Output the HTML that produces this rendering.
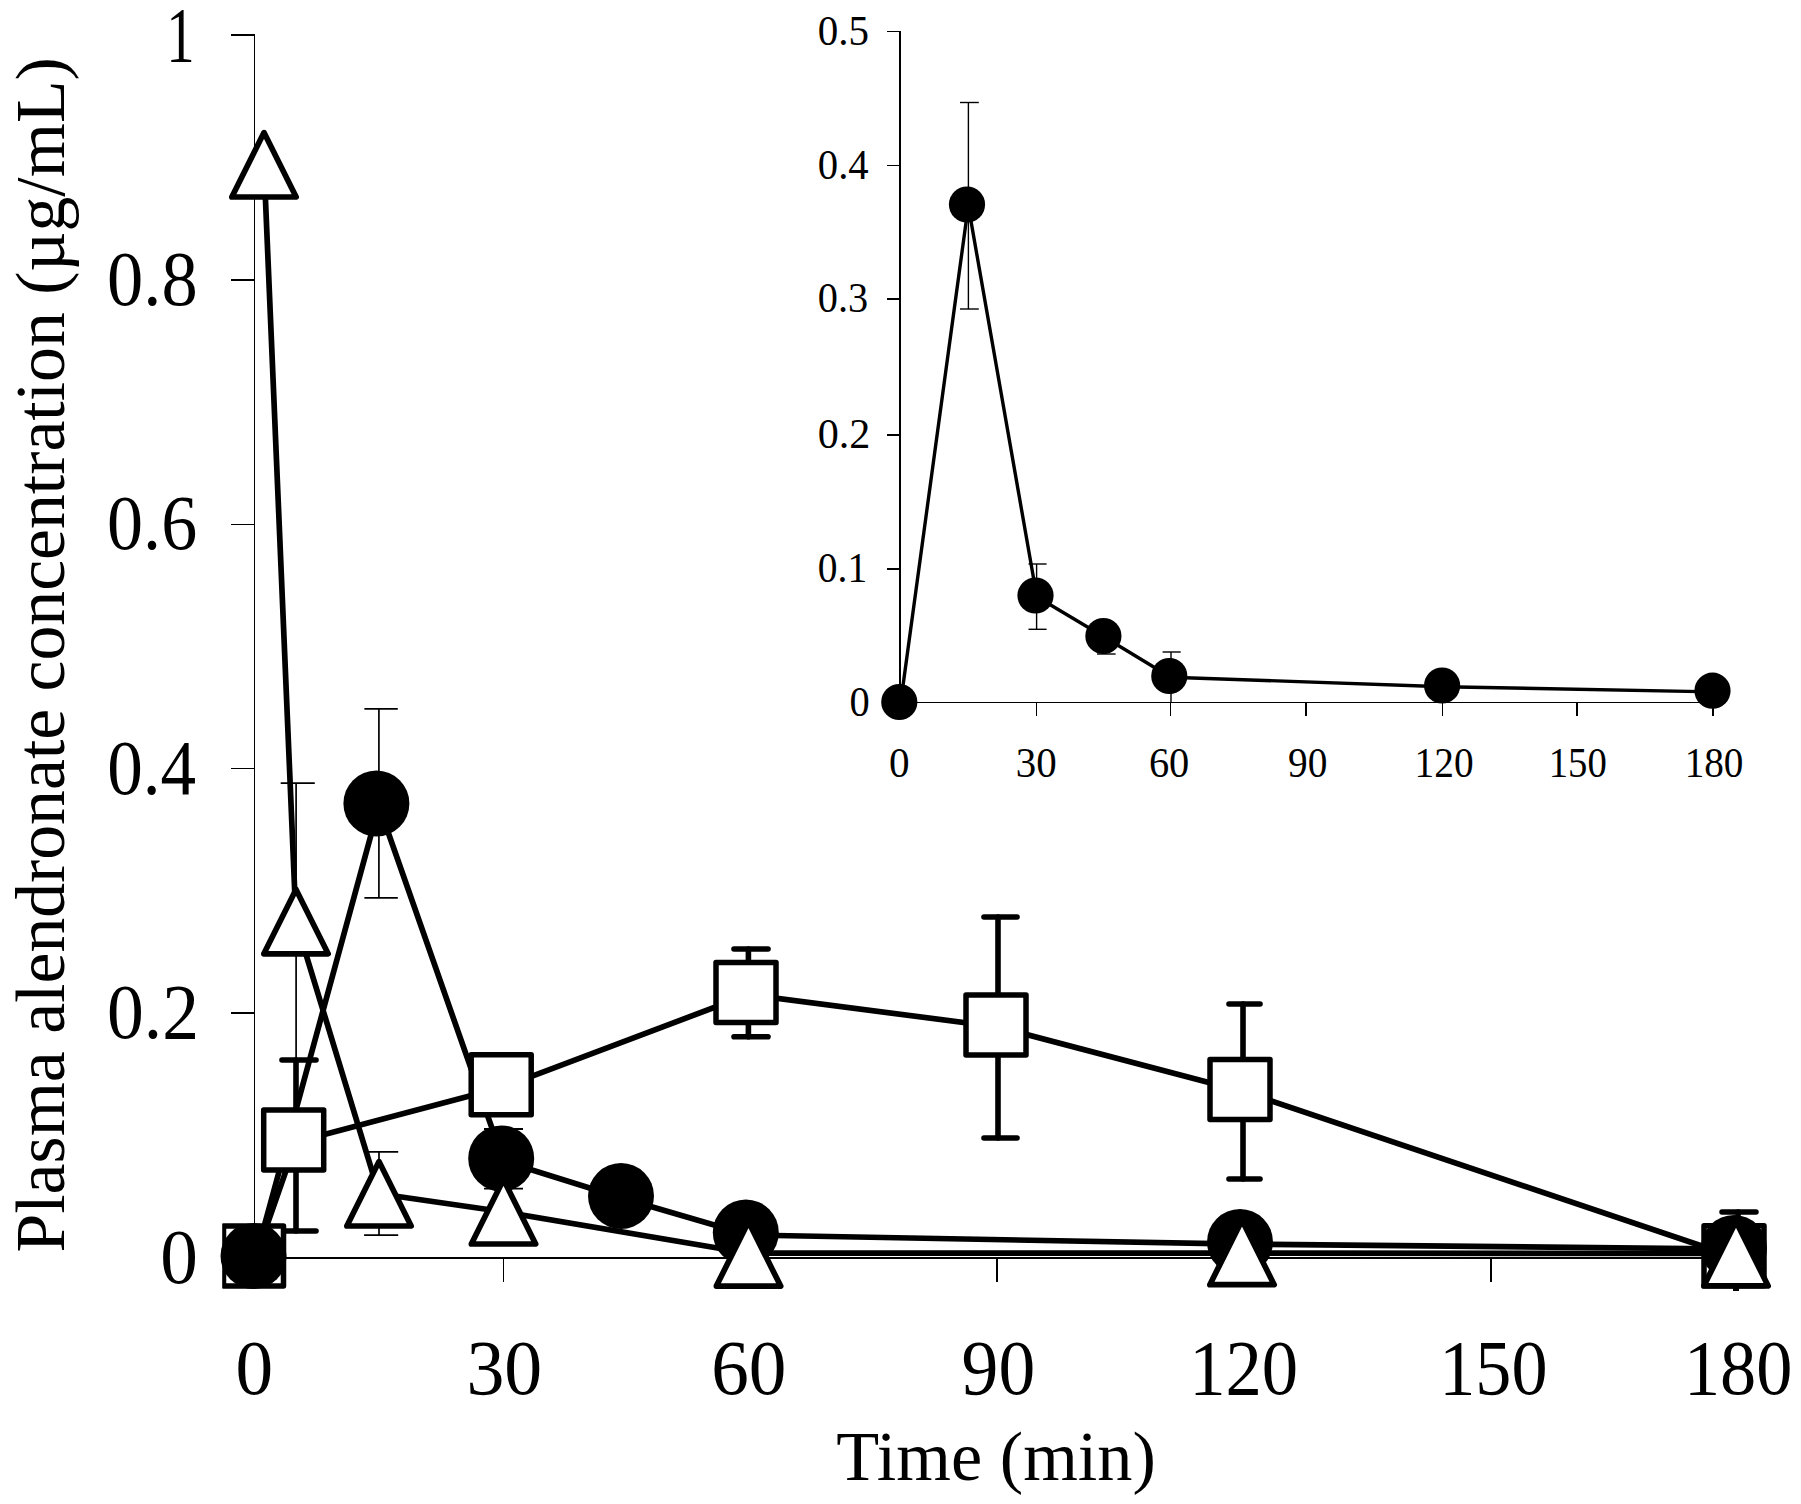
<!DOCTYPE html>
<html lang="en"><head><meta charset="utf-8"><title>Plasma alendronate concentration</title>
<style>html,body{margin:0;padding:0;background:#fff}svg{display:block}text{font-family:"Liberation Serif","Times New Roman",serif;fill:#000}</style>
</head><body>
<svg width="1801" height="1504" viewBox="0 0 1801 1504">
<rect width="1801" height="1504" fill="#fff"/>
<g stroke="#000" fill="none" shape-rendering="crispEdges">
<line x1="254.6" y1="35" x2="254.6" y2="1257.5" stroke-width="1.3"/>
<line x1="254.6" y1="1257.5" x2="1737" y2="1257.5" stroke-width="2"/>
<line x1="231" y1="35" x2="254.6" y2="35" stroke-width="1.5"/>
<line x1="231" y1="280" x2="254.6" y2="280" stroke-width="1.5"/>
<line x1="231" y1="524.3" x2="254.6" y2="524.3" stroke-width="1.5"/>
<line x1="231" y1="768.7" x2="254.6" y2="768.7" stroke-width="1.5"/>
<line x1="231" y1="1013" x2="254.6" y2="1013" stroke-width="1.5"/>
<line x1="231" y1="1257.5" x2="254.6" y2="1257.5" stroke-width="1.5"/>
<line x1="503.5" y1="1257.5" x2="503.5" y2="1282" stroke-width="1.2"/>
<line x1="749" y1="1257.5" x2="749" y2="1282" stroke-width="1.2"/>
<line x1="997" y1="1257.5" x2="997" y2="1282" stroke-width="1.2"/>
<line x1="1243" y1="1257.5" x2="1243" y2="1282" stroke-width="1.2"/>
<line x1="1491" y1="1257.5" x2="1491" y2="1282" stroke-width="1.2"/>
<line x1="1736" y1="1257.5" x2="1736" y2="1282" stroke-width="1.2"/>
</g>
<text transform="translate(166.14,60.90) scale(0.7182,1)" font-size="79">1</text>
<text transform="translate(107.08,305.10) scale(0.9179,1)" font-size="79">0.8</text>
<text transform="translate(107.10,549.40) scale(0.9120,1)" font-size="79">0.6</text>
<text transform="translate(107.13,793.80) scale(0.9006,1)" font-size="79">0.4</text>
<text transform="translate(107.04,1038.10) scale(0.9317,1)" font-size="79">0.2</text>
<text transform="translate(160.18,1282.60) scale(0.9531,1)" font-size="79">0</text>
<text transform="translate(235.58,1393.60) scale(0.9531,1)" font-size="79">0</text>
<text transform="translate(466.40,1393.60) scale(0.9601,1)" font-size="79">30</text>
<text transform="translate(711.20,1393.60) scale(0.9521,1)" font-size="79">60</text>
<text transform="translate(961.61,1393.60) scale(0.9310,1)" font-size="79">90</text>
<text transform="translate(1189.14,1393.60) scale(0.9206,1)" font-size="79">120</text>
<text transform="translate(1439.18,1393.60) scale(0.9142,1)" font-size="79">150</text>
<text transform="translate(1683.97,1393.60) scale(0.9151,1)" font-size="79">180</text>
<text transform="translate(836.37,1480.00) scale(1.0113,1)" font-size="69.5">Time (min)</text>
<text transform="translate(63.5,1252.49) rotate(-90) scale(0.9886,1)" font-size="70.5">Plasma alendronate concentration (µg/mL)</text>
<polyline fill="none" stroke="#000" stroke-width="5.7" stroke-linejoin="round" points="255.5,1258 296,1142 503.5,1087 748.5,994.5 998,1027 1243,1091.5 1736,1257.5"/>
<polyline fill="none" stroke="#000" stroke-width="5.7" stroke-linejoin="round" points="255.5,1258 378.9,806 503.5,1161 623.3,1198.5 748.5,1235 1243,1244.2 1736,1249"/>
<polyline fill="none" stroke="#000" stroke-width="5.7" stroke-linejoin="round" points="264,164.8 296,921.6 379,1193.8 503.5,1211.8 748.5,1253.2 1242,1253.2 1736,1253.5"/>
<g stroke="#000" stroke-width="5.6" stroke-linecap="round" fill="none"><line x1="296" y1="1060" x2="296" y2="1231"/><line x1="282" y1="1060" x2="316" y2="1060"/><line x1="282" y1="1231" x2="316" y2="1231"/></g>
<g stroke="#000" stroke-width="5.6" stroke-linecap="round" fill="none"><line x1="748.4" y1="949" x2="748.4" y2="1036.7"/><line x1="734" y1="949" x2="768" y2="949"/><line x1="734" y1="1036.7" x2="768" y2="1036.7"/></g>
<g stroke="#000" stroke-width="5.6" stroke-linecap="round" fill="none"><line x1="998" y1="917" x2="998" y2="1138"/><line x1="984" y1="917" x2="1017" y2="917"/><line x1="984" y1="1138" x2="1017" y2="1138"/></g>
<g stroke="#000" stroke-width="5.6" stroke-linecap="round" fill="none"><line x1="1243" y1="1004" x2="1243" y2="1179"/><line x1="1229" y1="1004" x2="1260" y2="1004"/><line x1="1229" y1="1179" x2="1260" y2="1179"/></g>
<g stroke="#000" stroke-width="5.5" stroke-linecap="round" fill="none"><line x1="1738" y1="1212" x2="1738" y2="1225"/><line x1="1722" y1="1212" x2="1756" y2="1212"/></g>
<line x1="1736" y1="1280" x2="1736" y2="1291" stroke="#000" stroke-width="6"/>
<g stroke="#000" stroke-width="1.7" stroke-linecap="butt" fill="none"><line x1="378.9" y1="708.9" x2="378.9" y2="897.9"/><line x1="364.4" y1="708.9" x2="397.8" y2="708.9"/><line x1="364.4" y1="897.9" x2="397.8" y2="897.9"/></g>
<g stroke="#000" stroke-width="1.7" stroke-linecap="butt" fill="none"><line x1="296.1" y1="783.1" x2="296.1" y2="1060"/><line x1="280.7" y1="783.1" x2="314.8" y2="783.1"/><line x1="280.7" y1="1060" x2="314.8" y2="1060"/></g>
<g stroke="#000" stroke-width="1.7" stroke-linecap="butt" fill="none"><line x1="379" y1="1151.9" x2="379" y2="1235.1"/><line x1="364.1" y1="1151.9" x2="398.2" y2="1151.9"/><line x1="364.1" y1="1235.1" x2="398.2" y2="1235.1"/></g>
<g stroke="#000" stroke-width="1.8" stroke-linecap="butt" fill="none"><line x1="503.5" y1="1129" x2="503.5" y2="1188.7"/><line x1="484" y1="1129" x2="523" y2="1129"/><line x1="484" y1="1188.7" x2="523" y2="1188.7"/></g>
<rect x="223.5" y="1226" width="60" height="60" fill="#fff" stroke="#000" stroke-width="5.5" stroke-linejoin="round"/>
<rect x="263.7" y="1110" width="60" height="60" fill="#fff" stroke="#000" stroke-width="5.5" stroke-linejoin="round"/>
<rect x="471.2" y="1054.8" width="60" height="60" fill="#fff" stroke="#000" stroke-width="5.5" stroke-linejoin="round"/>
<rect x="716" y="962.4" width="60" height="60" fill="#fff" stroke="#000" stroke-width="5.5" stroke-linejoin="round"/>
<rect x="966" y="995" width="60" height="60" fill="#fff" stroke="#000" stroke-width="5.5" stroke-linejoin="round"/>
<rect x="1210" y="1059.5" width="60" height="60" fill="#fff" stroke="#000" stroke-width="5.5" stroke-linejoin="round"/>
<rect x="1704" y="1225.8" width="60" height="60" fill="#fff" stroke="#000" stroke-width="5.5" stroke-linejoin="round"/>
<rect x="214" y="1218" width="8.2" height="76" fill="#fff"/>
<circle cx="253.5" cy="1256" r="33" fill="#000"/>
<circle cx="376.4" cy="803.5" r="33" fill="#000"/>
<circle cx="501.2" cy="1158.4" r="33" fill="#000"/>
<circle cx="621" cy="1196" r="33" fill="#000"/>
<circle cx="745.8" cy="1232.5" r="33" fill="#000"/>
<circle cx="1240" cy="1242" r="33" fill="#000"/>
<circle cx="1734" cy="1248" r="33" fill="#000"/>
<polygon points="264,132.60000000000002 296.15,197.0 231.85,197.0" fill="#fff" stroke="#000" stroke-width="5.7" stroke-linejoin="round"/>
<polygon points="296,889.4 328.15,953.8000000000001 263.85,953.8000000000001" fill="#fff" stroke="#000" stroke-width="5.7" stroke-linejoin="round"/>
<polygon points="379,1161.6 411.15,1226.0 346.85,1226.0" fill="#fff" stroke="#000" stroke-width="5.7" stroke-linejoin="round"/>
<polygon points="503.5,1179.6 535.65,1244.0 471.35,1244.0" fill="#fff" stroke="#000" stroke-width="5.7" stroke-linejoin="round"/>
<polygon points="748.5,1221.7 780.65,1286.1000000000001 716.35,1286.1000000000001" fill="#fff" stroke="#000" stroke-width="5.7" stroke-linejoin="round"/>
<polygon points="1242,1220.3 1274.15,1284.7 1209.85,1284.7" fill="#fff" stroke="#000" stroke-width="5.7" stroke-linejoin="round"/>
<polygon points="1736,1221.5 1768.15,1285.9 1703.85,1285.9" fill="#fff" stroke="#000" stroke-width="5.7" stroke-linejoin="round"/>
<g stroke="#000" fill="none" shape-rendering="crispEdges">
<line x1="900" y1="31" x2="900" y2="702.1" stroke-width="2"/>
<line x1="900" y1="702.1" x2="1713" y2="702.1" stroke-width="1.2"/>
<line x1="887" y1="31.5" x2="900" y2="31.5" stroke-width="1.4"/>
<line x1="887" y1="165.4" x2="900" y2="165.4" stroke-width="1.4"/>
<line x1="887" y1="298.8" x2="900" y2="298.8" stroke-width="1.4"/>
<line x1="887" y1="434.8" x2="900" y2="434.8" stroke-width="1.4"/>
<line x1="887" y1="568.8" x2="900" y2="568.8" stroke-width="1.4"/>
<line x1="887" y1="702.2" x2="900" y2="702.2" stroke-width="1.4"/>
<line x1="1036.6" y1="702.1" x2="1036.6" y2="716" stroke-width="1.4"/>
<line x1="1170.7" y1="702.1" x2="1170.7" y2="716" stroke-width="1.4"/>
<line x1="1306" y1="702.1" x2="1306" y2="716" stroke-width="1.4"/>
<line x1="1442.4" y1="702.1" x2="1442.4" y2="716" stroke-width="1.4"/>
<line x1="1577" y1="702.1" x2="1577" y2="716" stroke-width="1.4"/>
<line x1="1713" y1="702.1" x2="1713" y2="716" stroke-width="1.4"/>
</g>
<text transform="translate(817.76,45.10) scale(0.9957,1)" font-size="41.2">0.5</text>
<text transform="translate(817.77,179.00) scale(0.9891,1)" font-size="41.2">0.4</text>
<text transform="translate(817.79,312.40) scale(0.9792,1)" font-size="41.2">0.3</text>
<text transform="translate(817.72,448.40) scale(1.0233,1)" font-size="41.2">0.2</text>
<text transform="translate(817.82,582.40) scale(0.9582,1)" font-size="41.2">0.1</text>
<text transform="translate(849.58,715.80) scale(0.9823,1)" font-size="41.2">0</text>
<text transform="translate(888.96,776.90) scale(0.9994,1)" font-size="41.2">0</text>
<text transform="translate(1015.85,776.90) scale(0.9947,1)" font-size="41.2">30</text>
<text transform="translate(1148.88,776.90) scale(0.9814,1)" font-size="41.2">60</text>
<text transform="translate(1288.12,776.90) scale(0.9552,1)" font-size="41.2">90</text>
<text transform="translate(1414.56,776.90) scale(0.9550,1)" font-size="41.2">120</text>
<text transform="translate(1548.71,776.90) scale(0.9409,1)" font-size="41.2">150</text>
<text transform="translate(1684.67,776.90) scale(0.9515,1)" font-size="41.2">180</text>
<polyline fill="none" stroke="#000" stroke-width="3.4" stroke-linejoin="round" points="900.5999999999999,703.2 968.3,205.7 1036.8,596.7 1104.7,637.2 1170.6,677.2 1443.3999999999999,686.7 1713.8,691.9000000000001"/>
<g stroke="#000" stroke-width="1.4" stroke-linecap="butt" fill="none"><line x1="968.4" y1="102.5" x2="968.4" y2="309"/><line x1="960" y1="102.5" x2="978.8" y2="102.5"/><line x1="960" y1="309" x2="978.8" y2="309"/></g>
<g stroke="#000" stroke-width="1.4" stroke-linecap="butt" fill="none"><line x1="1036.6" y1="564" x2="1036.6" y2="629.3"/><line x1="1028.5" y1="564" x2="1046.6" y2="564"/><line x1="1028.5" y1="629.3" x2="1046.6" y2="629.3"/></g>
<g stroke="#000" stroke-width="1.4" stroke-linecap="butt" fill="none"><line x1="1105.5" y1="624" x2="1105.5" y2="654"/><line x1="1097" y1="624" x2="1115.6" y2="624"/><line x1="1097" y1="654" x2="1115.6" y2="654"/></g>
<g stroke="#000" stroke-width="1.4" fill="none"><line x1="1171" y1="652" x2="1171" y2="702"/><line x1="1162.6" y1="652" x2="1180.7" y2="652"/></g>
<circle cx="899.3" cy="702" r="18.1" fill="#000"/>
<circle cx="967" cy="204.5" r="18.1" fill="#000"/>
<circle cx="1035.5" cy="595.5" r="18.1" fill="#000"/>
<circle cx="1103.4" cy="636" r="18.1" fill="#000"/>
<circle cx="1169.3" cy="676" r="18.1" fill="#000"/>
<circle cx="1442.1" cy="685.5" r="18.1" fill="#000"/>
<circle cx="1712.5" cy="690.7" r="18.1" fill="#000"/>
</svg></body></html>
